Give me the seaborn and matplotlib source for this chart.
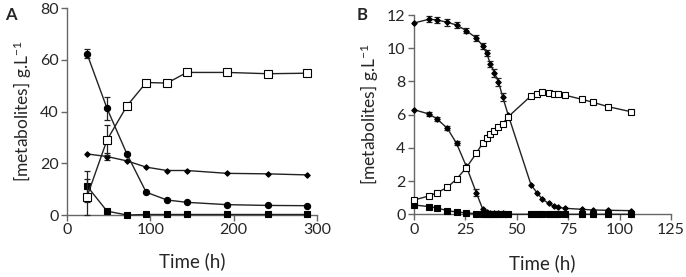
import numpy as np
import pandas as pd
import matplotlib
matplotlib.use("Agg")
import matplotlib.pyplot as plt
import seaborn as sns

sns.set_style("ticks")
plt.rcParams['font.family'] = ['Lato', 'DejaVu Sans']
plt.rcParams['mathtext.default'] = 'regular'

# ---------------- Panel A data ----------------
time_a = [24, 48, 72, 95, 120, 144, 192, 241, 288]
product_a = [7.1, 29.0, 42.2, 51.2, 51.0, 55.1, 55.1, 54.6, 54.8]
product_a_err = [7.0, 5.8, 0, 0, 0, 0, 0, 0, 0]
substrate1_a = [62.3, 41.2, 23.5, 8.8, 5.8, 4.9, 4.0, 3.7, 3.6]
substrate1_a_err = [1.8, 4.5, 0, 0, 0, 0, 0, 0, 0]
substrate2_a = [23.6, 22.6, 20.9, 18.5, 17.2, 17.2, 16.1, 15.9, 15.5]
substrate2_a_err = [0, 1.5, 0, 0, 0, 0, 0, 0, 0]
byproduct_a = [11.2, 1.5, 0.0, 0.2, 0.2, 0.2, 0.2, 0.2, 0.2]
byproduct_a_err = [6.0, 0, 0, 0, 0, 0, 0, 0, 0]

# ---------------- Panel B data ----------------
time_b = [0, 7.5, 11.2, 16.2, 20.7, 25.4, 30.3, 33.4, 35.3, 37.2, 39.1, 41.1, 43.1, 45.9,
          56.9, 59.8, 62.5, 65.5, 67.9, 70.0, 73.5, 81.8, 86.9, 94.4, 105.4]
substrate_main_b = [11.52, 11.75, 11.70, 11.56, 11.40, 11.06, 10.62, 10.14, 9.72, 9.04, 8.52, 7.98, 7.08, 5.95,
                    1.78, 1.30, 0.90, 0.66, 0.50, 0.42, 0.36, 0.30, 0.26, 0.24, 0.22]
substrate_main_b_err = [0, 0.2, 0.2, 0.2, 0.2, 0.15, 0.2, 0.2, 0.2, 0.2, 0.25, 0.25, 0.25, 0,
                        0, 0, 0, 0, 0, 0, 0, 0, 0, 0, 0]
product_b = [0.86, 1.11, 1.30, 1.62, 2.12, 2.80, 3.67, 4.29, 4.61, 4.86, 5.02, 5.24, 5.45, 5.88,
             7.13, 7.24, 7.37, 7.30, 7.27, 7.22, 7.17, 6.92, 6.75, 6.48, 6.18]
time_b2 = [0, 7.5, 11.2, 16.2, 20.7, 25.4, 30.3, 33.4, 35.3, 37.2, 39.1, 41.1, 43.1, 45.9]
substrate_second_b = [6.30, 6.03, 5.74, 5.18, 4.27, 2.90, 1.30, 0.32, 0.14, 0.10, 0.08, 0.06, 0.05, 0.04]
substrate_second_b_err = [0, 0.1, 0.1, 0.12, 0.12, 0, 0.2, 0, 0, 0, 0, 0, 0, 0]
byproduct_b = [0.56, 0.46, 0.38, 0.22, 0.14, 0.08, 0.04, 0.02, 0.01, 0.0, 0.0, 0.0, 0.0, 0.0,
               0.0, 0.0, 0.0, 0.0, 0.0, 0.0, 0.0, 0.0, 0.0, 0.0, 0.0]

LINE = '#222222'
SPINE = '#666666'

fig = plt.figure(figsize=(6.86, 2.77), dpi=100)
axA = fig.add_axes([0.0977, 0.2238, 0.3644, 0.7473])
axB = fig.add_axes([0.6035, 0.2264, 0.3746, 0.7194])


def series(ax, x, y, err=None, marker='o', ms=5, mfc='black', mew=0.8, z=3):
    df = pd.DataFrame({'t': x, 'v': y})
    sns.lineplot(data=df, x='t', y='v', ax=ax, color=LINE, linewidth=1.0,
                 marker=marker, markersize=ms, markerfacecolor=mfc,
                 markeredgecolor='black', markeredgewidth=mew,
                 clip_on=False, zorder=z, legend=False, sort=False)
    if err is not None:
        e = np.array(err, dtype=float)
        m = e > 0
        ax.errorbar(np.array(x)[m], np.array(y)[m], yerr=e[m], fmt='none',
                    ecolor=LINE, elinewidth=0.9, capsize=2.5, capthick=0.9,
                    clip_on=False, zorder=z - 0.5)


# Panel A
series(axA, time_a, substrate1_a, substrate1_a_err, marker='o', ms=4.5)
series(axA, time_a, substrate2_a, substrate2_a_err, marker='D', ms=2.8)
series(axA, time_a, byproduct_a, byproduct_a_err, marker='s', ms=4.2)
series(axA, time_a, product_a, product_a_err, marker='s', ms=5.6, mfc='white', z=4)

axA.set_xlim(0, 300)
axA.set_ylim(0, 80)
axA.set_xticks([0, 100, 200, 300])
axA.set_yticks([0, 20, 40, 60, 80])

# Panel B
series(axB, time_b, substrate_main_b, substrate_main_b_err, marker='D', ms=2.8)
series(axB, time_b2, substrate_second_b, substrate_second_b_err, marker='D', ms=2.8)
series(axB, time_b, byproduct_b, None, marker='s', ms=4.0)
series(axB, time_b, product_b, None, marker='s', ms=5.0, mfc='white', z=4)

axB.set_xlim(0, 125)
axB.set_ylim(0, 12)
axB.set_xticks([0, 25, 50, 75, 100, 125])
axB.set_yticks([0, 2, 4, 6, 8, 10, 12])

for ax in (axA, axB):
    sns.despine(ax=ax)
    for s in ('left', 'bottom'):
        ax.spines[s].set_color(SPINE)
        ax.spines[s].set_linewidth(1.0)
    ax.tick_params(axis='both', direction='out', length=4, width=1.0,
                   color=SPINE, labelsize=11.5, pad=2)
    ax.set_xlabel('Time (h)', fontsize=13.5)
    ax.set_ylabel('[metabolites] g.L$^{-1}$', fontsize=12.5, labelpad=4)
    ax.set_facecolor('none')

axA.xaxis.labelpad = 11
axB.xaxis.labelpad = 13

fig.text(0.008, 0.975, 'A', fontsize=12, fontweight='bold', va='top', ha='left')
fig.text(0.52, 0.975, 'B', fontsize=12, fontweight='bold', va='top', ha='left')

fig.savefig('out.png', dpi=100)
